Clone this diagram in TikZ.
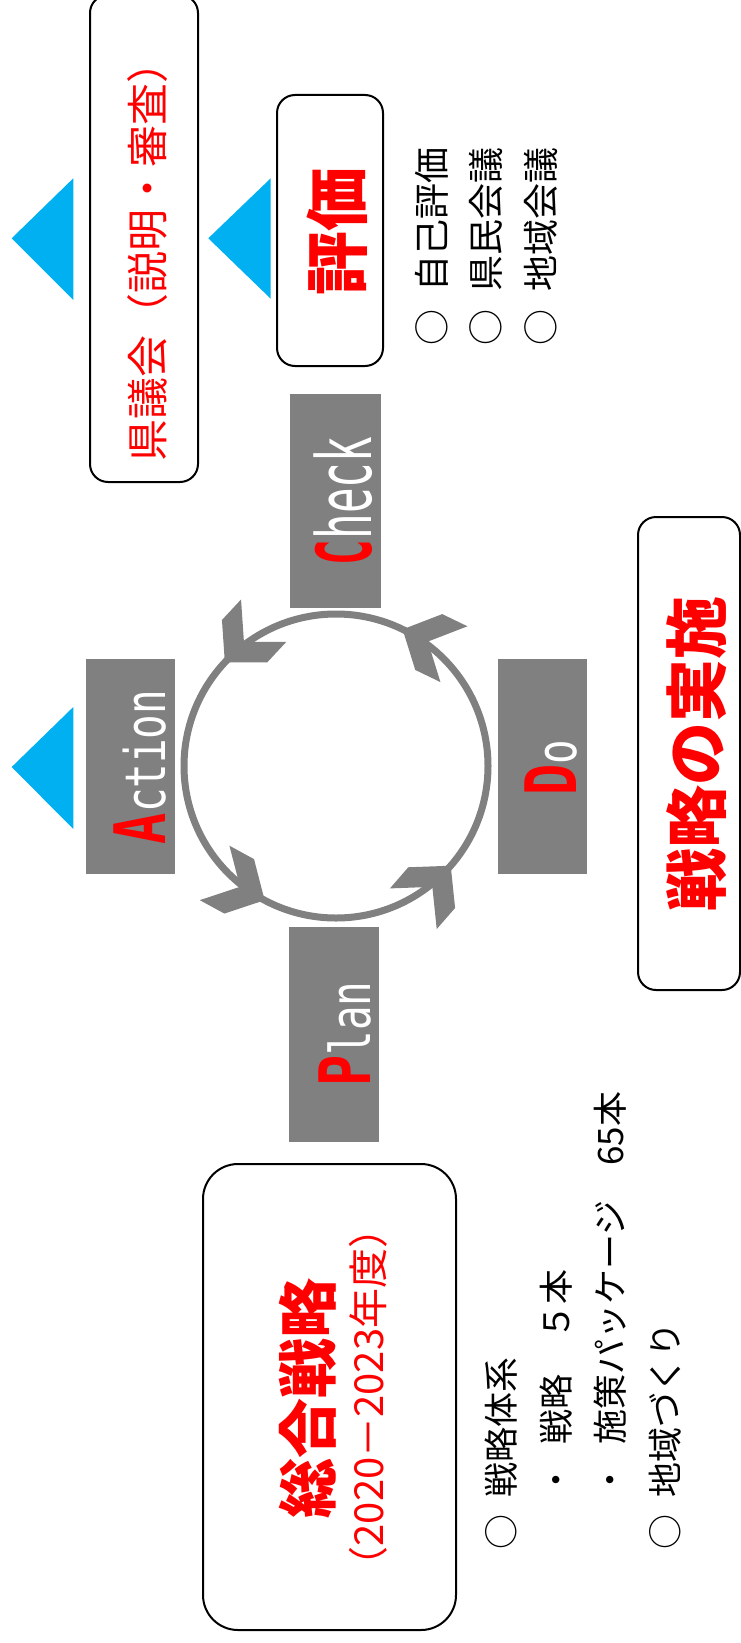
\documentclass[tikz,border=0pt]{standalone}
\usepackage{fontspec}
\usepackage{graphicx}
\newfontfamily\jp{Noto Sans CJK JP}
\newfontfamily\mono{DejaVu Sans Mono}
\definecolor{pgray}{RGB}{128,128,128}
\definecolor{tblue}{RGB}{0,176,240}
\newcommand\jstrut{\rule[-0.12em]{0pt}{1em}}
\newcommand\hs{\hspace{0.5em}}
\newcommand\fs[1]{\fontsize{#1}{#1}\selectfont}
\tikzset{
  rbox/.style={draw=black, line width=2pt, rounded corners=18pt, fill=white, inner sep=0pt, outer sep=0pt},
  gbox/.style={fill=pgray, inner sep=0pt, outer sep=0pt},
  jtxt/.style={rotate=90, inner sep=0pt, text=red},
  lbl/.style={rotate=90, inner sep=0pt, anchor=base, font=\mono},
  item/.style={rotate=90, inner sep=0pt, anchor=west, text=black},
  tri/.style={fill=tblue},
  pics/chevron/.style={code={\fill[pgray] (0,0) -- (-29,31) -- (-57,31) -- (-28,0) -- (-57,-31) -- (-29,-31) -- cycle;}}
}
\begin{document}
\begin{tikzpicture}[x=1pt,y=-1pt]
\fill[white] (0,0) rectangle (741,1643);
\useasboundingbox (0,0) rectangle (741,1643);

% top boxes
\node[rbox, minimum width=108pt, minimum height=487pt] (kb) at (144,238.5) {};
\node[jtxt, font=\jp\fs{42}] (kt) at (148,251) {\jstrut 県議会（説明・審査）};
\node[rbox, minimum width=106pt, minimum height=271pt] (hb) at (330,230.5) {};
\node[jtxt, font=\jp\bfseries\fs{64}] (ht) at (337.5,231.5) {\jstrut 評価};

% blue triangles
\fill[tri] (73.3,178.3) -- (11.7,238.3) -- (73.3,300) -- cycle;
\fill[tri] (270.7,178.3) -- (208.3,238.3) -- (270.7,298.7) -- cycle;
\fill[tri] (73.3,707) -- (11.7,767) -- (73.3,829) -- cycle;

% evaluation list
\node[item, font=\jp\fs{36}] (e1) at (432,346) {\jstrut ○\hs 自己評価};
\node[item, font=\jp\fs{36}] (e2) at (486,346) {\jstrut ○\hs 県民会議};
\node[item, font=\jp\fs{36}] (e3) at (541,346) {\jstrut ○\hs 地域会議};

% PDCA boxes
\node[gbox, minimum width=91pt, minimum height=214pt] (cb) at (335.5,501) {};
\node[lbl] (ct) at (371,501) {\scalebox{0.56}[1]{\fs{76}\textcolor{red}{\bfseries C}\textcolor{white}{heck}}};
\node[gbox, minimum width=89pt, minimum height=215pt] (ab) at (130.5,766.5) {};
\node[lbl] (at) at (165,767) {\scalebox{0.73}[1]{\textcolor{red}{\fs{71}\bfseries A}\textcolor{white}{\fs{56}ction}}};
\node[gbox, minimum width=89pt, minimum height=215pt] (db) at (542.5,766.5) {};
\node[lbl] (dt) at (576,768) {\scalebox{0.73}[1]{\textcolor{red}{\fs{71}\bfseries D}\textcolor{white}{\fs{56}o}}};
\node[gbox, minimum width=90pt, minimum height=215pt] (pb) at (334,1034.5) {};
\node[lbl] (pt) at (370,1034) {\scalebox{0.73}[1]{\textcolor{red}{\fs{71}\bfseries P}\textcolor{white}{\fs{56}lan}}};

% cycle
\node[circle, draw=pgray, line width=7pt, minimum size=304pt, inner sep=0pt, outer sep=0pt] (cyc) at (336,766) {};
\path (cyc.-41) pic[rotate=49] {chevron};
\path (cyc.64.2) pic[rotate=154.2] {chevron};
\path (cyc.137) pic[rotate=227] {chevron};
\path (cyc.-118.6) pic[rotate=-28.6] {chevron};

% implementation box
\node[rbox, minimum width=102pt, minimum height=473pt] (sb) at (689,753.5) {};
\node[jtxt, font=\jp\bfseries\fs{63}] (st) at (696.5,754) {\jstrut 戦略の実施};

% comprehensive strategy box
\node[rbox, rounded corners=35pt, minimum width=253pt, minimum height=466pt] (gb) at (329.5,1397) {};
\node[jtxt, font=\jp\bfseries\fs{60}] (gt) at (308,1398) {\jstrut 総合戦略};
\node[jtxt, font=\jp\fs{40}] (gy) at (368.5,1397.5) {\jstrut （2020－2023年度）};

% bottom list
\node[item, font=\jp\fs{35}] (b1) at (501,1550) {\jstrut ○\hs 戦略体系};
\node[item, font=\jp\fs{35}] (b2) at (556,1550) {\jstrut \hspace{1.5em}・\hs 戦略　５本};
\node[item, font=\jp\fs{35}] (b3) at (610,1550) {\jstrut \hspace{1.5em}・\hs 施策パッケージ　65本};
\node[item, font=\jp\fs{35}] (b4) at (665,1550) {\jstrut ○\hs 地域づくり};
\end{tikzpicture}
\end{document}
